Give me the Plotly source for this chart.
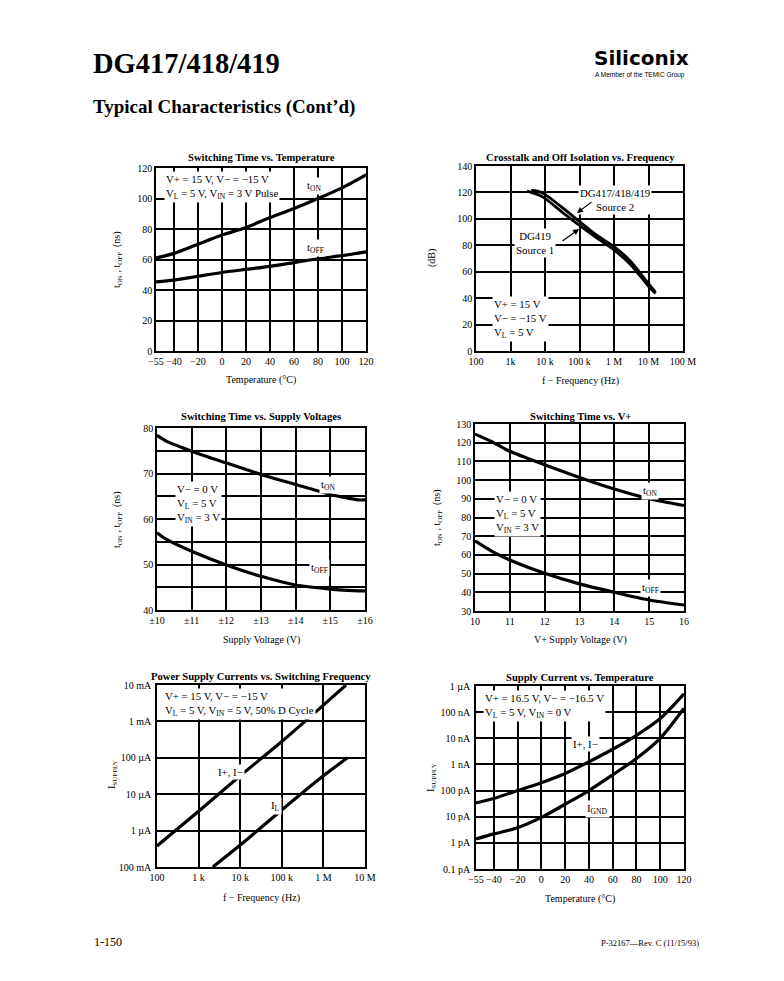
import plotly.graph_objects as go

W, H = 784, 981
FONT = "Liberation Serif, Times New Roman, serif"

# ---------------- data ----------------
temp = [-55, -40, -20, 0, 20, 40, 60, 80, 100, 120]
temp_ticks = [-55, -40, -20, 0, 20, 40, 60, 80, 100, 120]
temp_text = ["−55", "−40", "−20", "0", "20", "40", "60", "80", "100", "120"]

ton_temp = [61, 64, 70, 76, 81, 87.5, 93.5, 100, 107, 115.5]
toff_temp = [45.3, 46.5, 49, 51.5, 53.5, 55.5, 58, 60.5, 62.5, 65]

xt_freq_s2 = [4.0e3, 6e3, 1e4, 3e4, 1e5, 3e5, 1e6, 3e6, 1e7, 1.6e7]
xt_src2 = [121.5, 121, 118.5, 109, 98, 88, 79, 68, 51, 44.5]
xt_freq_s1 = [3.0e3, 6e3, 1e4, 3e4, 1e5, 3e5, 1e6, 3e6, 1e7, 1.6e7]
xt_src1 = [121, 118.5, 115.5, 105.5, 95, 86, 76.5, 65.5, 49, 43.5]
freq_ticks2 = [1e2, 1e3, 1e4, 1e5, 1e6, 1e7, 1e8]
freq_text2 = ["100", "1k", "10 k", "100 k", "1 M", "10 M", "100 M"]

vsup = [10, 10.3, 11, 12, 13, 14, 15, 15.5, 15.8, 16]
ton_vsup = [78.4, 77, 74.9, 72.3, 69.8, 67.6, 65.4, 64.6, 64.2, 64.2]
toff_vsup = [57, 55.4, 52.9, 49.9, 47.4, 45.5, 44.6, 44.3, 44.2, 44.2]
vsup_ticks = [10, 11, 12, 13, 14, 15, 16]
vsup_text = ["±10", "±11", "±12", "±13", "±14", "±15", "±16"]

vplus = [10, 10.5, 11, 12, 13, 14, 15, 16]
ton_vplus = [124.6, 120.4, 115.4, 108.2, 101.4, 95.2, 90, 86.4]
toff_vplus = [67.5, 61.8, 57.3, 50.2, 44.5, 40, 35.9, 33.2]
vplus_ticks = [10, 11, 12, 13, 14, 15, 16]

f_isup = [100, 1e3, 1e4, 1e5, 1e6, 3.5e6]
i_sup = [3.8e-7, 3.4e-6, 3.2e-5, 2.8e-4, 2.8e-3, 1e-2]
f_il = [2.2e3, 1e4, 1e5, 1e6, 3.8e6]
i_l = [1e-7, 4e-7, 3.7e-6, 3.2e-5, 1e-4]
freq_ticks5 = [1e2, 1e3, 1e4, 1e5, 1e6, 1e7]
freq_text5 = ["100", "1 k", "10 k", "100 k", "1 M", "10 M"]
cur_ticks5 = [1e-7, 1e-6, 1e-5, 1e-4, 1e-3, 1e-2]
cur_text5 = ["100 mA", "1 µA", "10 µA", "100 µA", "1 mA", "10 mA"]

i_pm_temp = [3.4e-11, 5e-11, 1e-10, 2e-10, 4.5e-10, 1.26e-9, 3.8e-9, 1.3e-8, 5.7e-8, 5e-7]
i_gnd_temp = [1.4e-12, 2.2e-12, 3.8e-12, 9.4e-12, 3e-11, 1e-10, 4e-10, 1.7e-9, 1e-8, 1.4e-7]
cur_ticks6 = [1e-13, 1e-12, 1e-11, 1e-10, 1e-9, 1e-8, 1e-7, 1e-6]
cur_text6 = ["0.1 pA", "1 pA", "10 pA", "100 pA", "1 nA", "10 nA", "100 nA", "1 µA"]

# ---------------- layout helpers ----------------
def X(p):
    return p / W

def Y(p):
    return 1 - p / H

panels = [
    ((156, 366), (168, 351)),
    ((476, 683), (166, 351)),
    ((157, 365), (428, 610)),
    ((475, 684), (424, 611)),
    ((157, 365), (685, 867)),
    ((476, 684), (686, 869)),
]

fig = go.Figure()
layout = dict(
    template="none",
    width=W, height=H,
    margin=dict(l=0, r=0, t=0, b=0, pad=0),
    paper_bgcolor="white", plot_bgcolor="white",
    showlegend=False,
    font=dict(family=FONT, color="black", size=10),
)

def base_axis():
    return dict(
        showline=True, mirror=True, linecolor="black", linewidth=1.5,
        showgrid=True, gridcolor="black", gridwidth=1.6,
        ticks="", zeroline=False, fixedrange=True, tickangle=0,
        tickfont=dict(family=FONT, size=10, color="black"),
    )

axcfg = [
    (dict(range=[-55, 120], tickvals=temp_ticks, ticktext=temp_text),
     dict(range=[0, 120], tickvals=[0, 20, 40, 60, 80, 100, 120], ticksuffix=" ")),
    (dict(type="log", range=[2, 8], tickvals=freq_ticks2, ticktext=freq_text2),
     dict(range=[0, 140], tickvals=[0, 20, 40, 60, 80, 100, 120, 140], ticksuffix=" ")),
    (dict(range=[10, 16], tickvals=vsup_ticks, ticktext=vsup_text),
     dict(range=[40, 80], tickvals=[40, 45, 50, 55, 60, 65, 70, 75, 80],
          ticktext=["40", "", "50", "", "60", "", "70", "", "80"], ticksuffix=" ")),
    (dict(range=[10, 16], tickvals=vplus_ticks),
     dict(range=[30, 130], tickvals=[30, 40, 50, 60, 70, 80, 90, 100, 110, 120, 130], ticksuffix=" ")),
    (dict(type="log", range=[2, 7], tickvals=freq_ticks5, ticktext=freq_text5),
     dict(type="log", range=[-7, -2], tickvals=cur_ticks5, ticktext=[t + " " for t in cur_text5])),
    (dict(range=[-55, 120], tickvals=temp_ticks, ticktext=temp_text),
     dict(type="log", range=[-13, -6], tickvals=cur_ticks6, ticktext=[t + " " for t in cur_text6])),
]

for i, (((x0, x1), (y0, y1)), (xa, ya)) in enumerate(zip(panels, axcfg)):
    n = "" if i == 0 else str(i + 1)
    xd = base_axis(); xd.update(xa)
    yd = base_axis(); yd.update(ya)
    xd.update(domain=[X(x0), X(x1)], anchor="y" + n)
    yd.update(domain=[Y(y1), Y(y0)], anchor="x" + n)
    layout["xaxis" + n] = xd
    layout["yaxis" + n] = yd

def curve(x, y, n, width=3.2):
    fig.add_trace(go.Scatter(
        x=x, y=y, mode="lines", xaxis="x" + n, yaxis="y" + n,
        line=dict(color="black", width=width, shape="spline", smoothing=0.8),
        hoverinfo="skip"))

curve(temp, ton_temp, "")
curve(temp, toff_temp, "")
curve(xt_freq_s2, xt_src2, "2", 2.8)
curve(xt_freq_s1, xt_src1, "2", 2.8)
curve(vsup, ton_vsup, "3")
curve(vsup, toff_vsup, "3")
curve(vplus, ton_vplus, "4")
curve(vplus, toff_vplus, "4")
curve(f_isup, i_sup, "5")
curve(f_il, i_l, "5")
curve(temp, i_pm_temp, "6")
curve(temp, i_gnd_temp, "6")

ann = []

def text(x, y, s, size=10, xanchor="center", yanchor="middle", bold=False,
         family=FONT, angle=0, bg=None, align="center"):
    d = dict(x=X(x), y=Y(y), xref="paper", yref="paper", text=("<b>%s</b>" % s) if bold else s,
             showarrow=False, xanchor=xanchor, yanchor=yanchor, align=align,
             font=dict(family=family, size=size, color="black"), textangle=angle)
    if bg:
        d.update(bgcolor=bg, borderpad=1)
    ann.append(d)

def arrow(x_head, y_head, x_tail, y_tail):
    ann.append(dict(x=X(x_head), y=Y(y_head), xref="paper", yref="paper",
                    ax=x_tail - x_head, ay=y_tail - y_head, text="",
                    showarrow=True, arrowhead=2, arrowsize=1.0, arrowwidth=1.2,
                    arrowcolor="black"))

# header / footer
text(91, 64, "DG417/418/419", size=28.5, xanchor="left", bold=True)
text(91, 107, "Typical Characteristics (Cont’d)", size=19, xanchor="left", bold=True)
text(592, 58, "Siliconix", size=20, xanchor="left", bold=True, family="DejaVu Sans, Arial, sans-serif")
text(593, 75, "A Member of the TEMIC Group", size=6.5, xanchor="left", family="Liberation Sans Narrow, Arial, sans-serif")
text(92, 942, "1-150", size=12, xanchor="left")
text(701, 943, "P-32167—Rev. C (11/15/93)", size=8.5, xanchor="right")

# chart titles
TS = 10.6
text(261, 157, "Switching Time vs. Temperature", size=TS, bold=True)
text(580, 157, "Crosstalk and Off Isolation vs. Frequency", size=TS, bold=True)
text(261, 416, "Switching Time vs. Supply Voltages", size=TS, bold=True)
text(580, 416, "Switching Time vs. V+", size=TS, bold=True)
text(261, 676, "Power Supply Currents vs. Switching Frequency", size=TS, bold=True)
text(580, 677, "Supply Current vs. Temperature", size=TS, bold=True)

# axis titles
text(261, 380, "Temperature (°C)")
text(580, 381, "f − Frequency (Hz)")
text(261, 640, "Supply Voltage (V)")
text(580, 640, "V+ Supply Voltage (V)")
text(261, 898, "f − Frequency (Hz)")
text(580, 899, "Temperature (°C)")
text(117, 260, "t<sub>ON</sub> , t<sub>OFF</sub>  (ns)", angle=-90)
text(432, 258, "(dB)", angle=-90)
text(117, 520, "t<sub>ON</sub> , t<sub>OFF</sub>  (ns)", angle=-90)
text(437, 518, "t<sub>ON</sub> , t<sub>OFF</sub>  (ns)", angle=-90)
text(112, 775, "I<sub>SUPPLY</sub>", angle=-90)
text(431, 778, "I<sub>SUPPLY</sub>", angle=-90)

CS = 10.8
# chart 1 annotations
text(164, 171, "V+ = 15 V, V− = −15 V<br>V<sub>L</sub> = 5 V, V<sub>IN</sub> = 3 V Pulse",
     size=CS, xanchor="left", yanchor="top", bg="white", align="left")
text(314, 186, "t<sub>ON</sub>", size=CS, bg="white")
text(315, 248, "t<sub>OFF</sub>", size=CS, bg="white")

# chart 2 annotations
text(615, 200, "DG417/418/419<br>Source 2", size=CS, bg="white")
text(535, 243, "DG419<br>Source 1", size=CS, bg="white")
arrow(577, 213, 593, 201)
arrow(579, 229, 561, 242)
text(492, 296, "V+ = 15 V<br>V− = −15 V<br>V<sub>L</sub> = 5 V",
     size=CS, xanchor="left", yanchor="top", bg="white", align="left")

# chart 3 annotations
text(175, 481, "V− = 0 V<br>V<sub>L</sub> = 5 V<br>V<sub>IN</sub> = 3 V",
     size=CS, xanchor="left", yanchor="top", bg="white", align="left")
text(328, 485, "t<sub>ON</sub>", size=CS, bg="white")
text(319, 568, "t<sub>OFF</sub>", size=CS, bg="white")

# chart 4 annotations
text(494, 491, "V− = 0 V<br>V<sub>L</sub> = 5 V<br>V<sub>IN</sub> = 3 V",
     size=CS, xanchor="left", yanchor="top", bg="white", align="left")
text(650, 491, "t<sub>ON</sub>", size=CS, bg="white")
text(650, 588, "t<sub>OFF</sub>", size=CS, bg="white")

# chart 5 annotations
text(163, 688, "V+ = 15 V, V− = −15 V<br>V<sub>L</sub> = 5 V, V<sub>IN</sub> = 5 V, 50% D Cycle",
     size=CS, xanchor="left", yanchor="top", bg="white", align="left")
text(230, 772, "I+, I−", size=CS, bg="white")
text(275, 806, "I<sub>L</sub>", size=CS, bg="white")

# chart 6 annotations
text(483, 690, "V+ = 16.5 V, V− = −16.5 V<br>V<sub>L</sub> = 5 V, V<sub>IN</sub> = 0 V",
     size=CS, xanchor="left", yanchor="top", bg="white", align="left")
text(585, 744, "I+, I−", size=CS, bg="white")
text(597, 809, "I<sub>GND</sub>", size=CS, bg="white")

layout["annotations"] = ann
fig.update_layout(**layout)
fig.write_html("out.html", config={"displayModeBar": False},
               post_script="document.body.style.margin='0';document.body.style.padding='0';")
